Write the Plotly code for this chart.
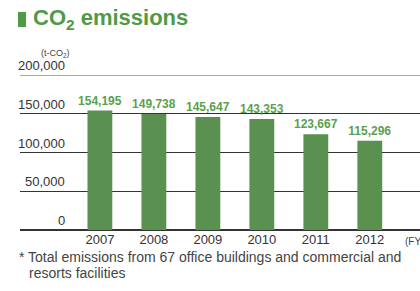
import plotly.graph_objects as go

years = ["2007", "2008", "2009", "2010", "2011", "2012"]
emissions = [154195, 149738, 145647, 143353, 123667, 115296]
ytick_vals = [0, 50000, 100000, 150000, 200000]
ytick_text = ["0", "50,000", "100,000", "150,000", "200,000"]

FONT = "Liberation Sans, Arial, Helvetica, sans-serif"
BAR = "#5a9150"
LABEL_GREEN = "#5c9f4f"
TITLE_GREEN = "#4f9a47"

W, H = 420, 291
L, R, T, B = 20, 0, 75, 61
pw, ph = W - L - R, H - T - B

def px(x):
    return (x - L) / pw

def py(y):
    return (H - B - y) / ph

fig = go.Figure(
    go.Bar(
        x=years,
        y=emissions,
        width=0.46,
        marker=dict(color=BAR, line=dict(width=0)),
        text=[f"{v:,}" for v in emissions],
        textposition="outside",
        textangle=0,
        constraintext="none",
        textfont=dict(family=FONT, size=12, color=LABEL_GREEN, weight="bold"),
        cliponaxis=False,
        hoverinfo="skip",
    )
)

annotations = []
for v, t in zip(ytick_vals, ytick_text):
    annotations.append(dict(
        x=px(67), xref="paper", y=v, yref="y", text=t, showarrow=False,
        xanchor="right", yanchor="bottom", yshift=0,
        font=dict(family=FONT, size=13, color="#333333"),
    ))

annotations += [
    dict(x=px(55), xref="paper", y=py(53), yref="paper", text="(t-CO<sub>2</sub>)",
         showarrow=False, xanchor="center", yanchor="middle",
         font=dict(family=FONT, size=9, color="#444444")),
    dict(x=px(31), xref="paper", y=py(19), yref="paper", text="CO<sub>2</sub> emissions",
         showarrow=False, xanchor="left", yanchor="middle",
         font=dict(family=FONT, size=22, color=TITLE_GREEN, weight="bold")),
    dict(x=px(403), xref="paper", y=py(241), yref="paper", text="(FY)",
         showarrow=False, xanchor="left", yanchor="middle",
         font=dict(family=FONT, size=10, color="#444444")),
    dict(x=px(17), xref="paper", y=py(257), yref="paper",
         text="* Total emissions from 67 office buildings and commercial and",
         showarrow=False, xanchor="left", yanchor="middle",
         font=dict(family=FONT, size=14, color="#444444")),
    dict(x=px(27), xref="paper", y=py(273), yref="paper",
         text="resorts facilities",
         showarrow=False, xanchor="left", yanchor="middle",
         font=dict(family=FONT, size=14, color="#444444")),
]

shapes = [
    dict(type="rect", xref="paper", yref="paper", x0=px(18), x1=px(26), y0=py(27), y1=py(12),
         fillcolor=TITLE_GREEN, line=dict(width=0)),
    dict(type="line", xref="paper", yref="y", x0=0, x1=1, y0=200000, y1=200000,
         line=dict(color="#8a8a8a", width=1.5), layer="below"),
]

fig.update_layout(
    width=W, height=H,
    margin=dict(l=L, r=R, t=T, b=B, pad=0),
    paper_bgcolor="white", plot_bgcolor="white",
    showlegend=False,
    font=dict(family=FONT, color="#333333"),
    annotations=annotations,
    shapes=shapes,
)
fig.update_xaxes(
    type="category", range=[-1.48, 5.93], showgrid=False, showline=False, zeroline=False,
    ticks="", tickfont=dict(family=FONT, size=13, color="#333333"),
)
fig.update_yaxes(
    range=[0, 200000], tickvals=[50000, 100000, 150000], showticklabels=False,
    showgrid=True, gridcolor="#333333", gridwidth=1,
    zeroline=True, zerolinecolor="#333333", zerolinewidth=1.5, showline=False, ticks="",
)

fig.write_html(
    "out.html",
    config={"displayModeBar": False},
    post_script="document.body.style.margin='0';document.body.style.overflow='hidden';",
)
